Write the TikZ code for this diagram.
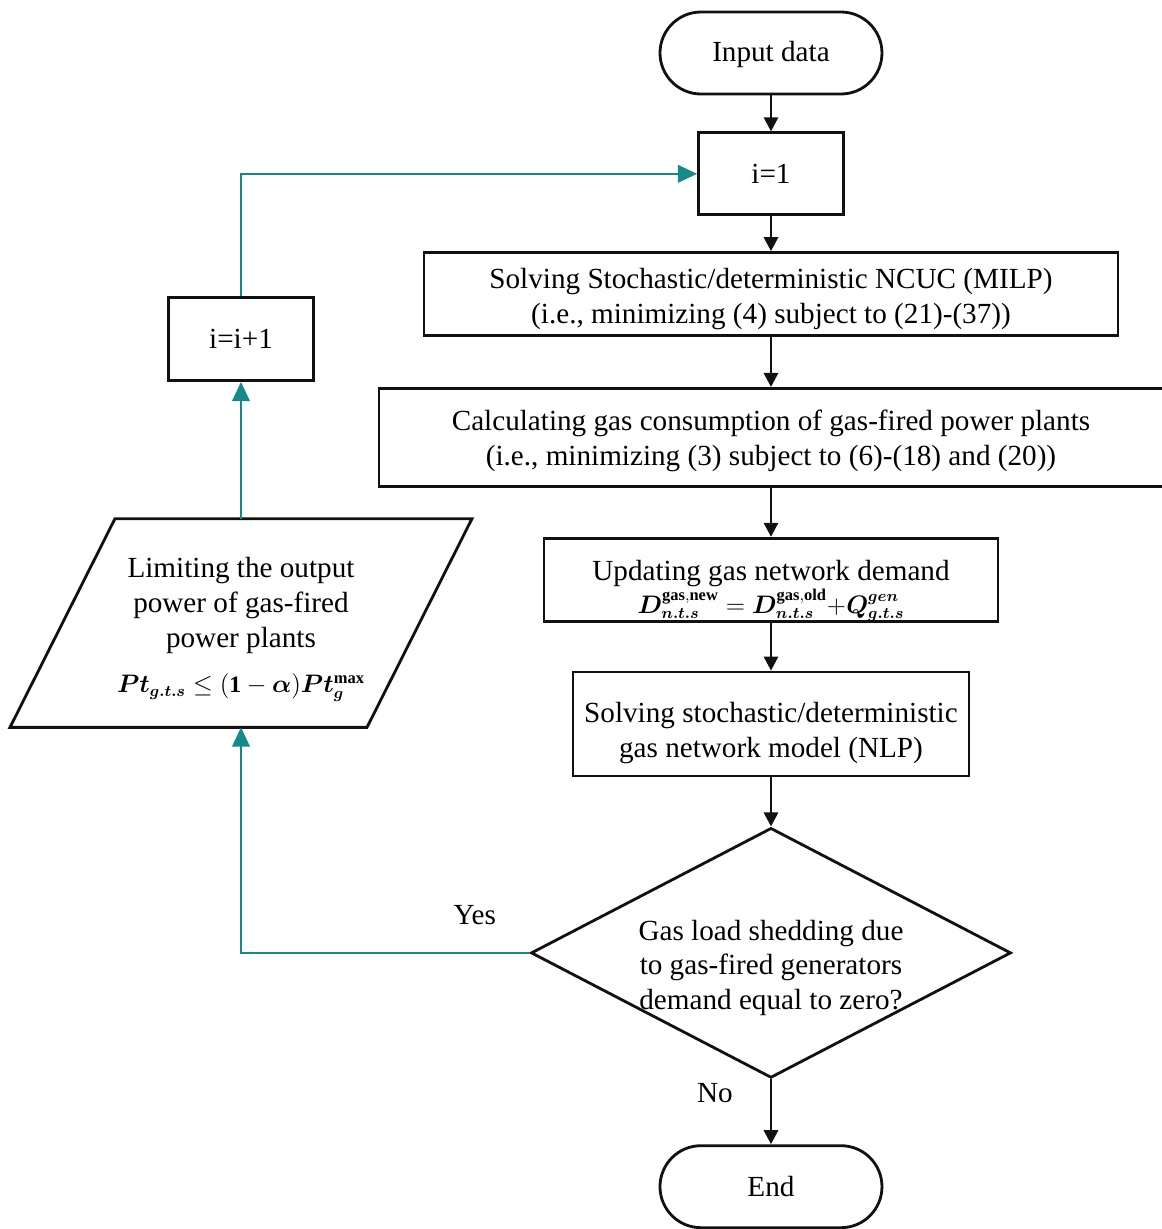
\documentclass[tikz,border=0pt]{standalone}
\usepackage{fontspec}
\setmainfont{Liberation Serif}
\usepackage{amsmath,bm}
\usetikzlibrary{positioning,arrows.meta,shapes.geometric}
\definecolor{ink}{HTML}{111111}
\definecolor{teal}{HTML}{168A88}
\newcommand{\eqsize}{\fontsize{13.4}{16}\selectfont}
% text block pushed down inside its node, node size untouched
\newcommand{\lowered}[2]{\raisebox{-#1}[\height][\depth]{\begin{tabular}{@{}c@{}}#2\end{tabular}}}
\tikzset{
  font=\fontsize{16.6}{19.8}\selectfont,
  %% nodes
  box/.style        = {draw=ink, line width=1.6pt, fill=white, align=center,
                       inner sep=2pt},
  term/.style       = {box, rounded corners=0.82cm, minimum width=4.44cm,
                       minimum height=1.64cm},
  dec/.style        = {diamond, draw=ink, line width=1.6pt, fill=white,
                       align=center, inner sep=0pt, aspect=1.92,
                       minimum width=9.6cm, minimum height=5cm},
  io/.style         = {align=center, inner sep=0pt, minimum height=4.16cm},
  ioedge/.style     = {draw=ink, line width=1.6pt, line join=miter},
  %% arrows
  flow/.style       = {-{Triangle[length=8pt,width=8pt]}, draw=ink, line width=1.6pt},
  back/.style       = {-{Triangle[length=11pt,width=10pt]}, draw=teal, line width=1.4pt},
  lbl/.style        = {font=\fontsize{16.6}{19.8}\selectfont},
}
\begin{document}
\begin{tikzpicture}[node distance=0pt]
\useasboundingbox (-15.42,1.06) rectangle (7.82,-23.52);

%% main column
\node[term] (input) at (0,0) {\lowered{0.04cm}{Input data}};
\node[box, minimum width=2.9cm, minimum height=1.64cm, below=0.72cm of input] (init) {i=1};
\node[box, minimum width=13.88cm, minimum height=1.66cm, below=0.70cm of init] (ncuc)
   {\lowered{0.1cm}{Solving Stochastic/deterministic NCUC (MILP)\\ (i.e., minimizing (4) subject to (21)-(37))}};
\node[box, minimum width=15.68cm, minimum height=1.96cm, below=1.0cm of ncuc] (gascons)
   {\lowered{0.07cm}{Calculating gas consumption of gas-fired power plants\\ (i.e., minimizing (3) subject to (6)-(18) and (20))}};
\node[box, minimum width=9.08cm, minimum height=1.66cm, below=0.98cm of gascons] (update)
   {\lowered{0.2cm}{Updating gas network demand\\[-1pt]
    \eqsize$\bm{D}^{\mathbf{gas,new}}_{\bm{n.t.s}}=\bm{D}^{\mathbf{gas,old}}_{\bm{n.t.s}}{+}\bm{Q}^{\bm{gen}}_{\bm{g.t.s}}$}};
\node[box, minimum width=7.92cm, minimum height=2.08cm, below=0.96cm of update] (nlp)
   {\lowered{0.18cm}{Solving stochastic/deterministic\\ gas network model (NLP)}};
\node[dec, below=0.98cm of nlp] (shed)
   {\lowered{0.3cm}{Gas load shedding due\\ to gas-fired generators\\ demand equal to zero?}};
\node[term, below=1.30cm of shed] (finish) {End};

%% left column
\node[box, minimum width=2.9cm, minimum height=1.66cm] (incr) at (-10.6,-5.72) {i=i+1};
\node[io] (limit) at (-10.6,-11.4)
   {\lowered{0.1cm}{Limiting the output\\ power of gas-fired\\ power plants\\[6pt]
    \eqsize$\bm{Pt}_{\bm{g.t.s}}\le(\mathbf{1}-\bm{\alpha})\bm{Pt}^{\mathbf{max}}_{\bm{g}}$}};
\draw[ioedge] ([xshift=-2.52cm]limit.north) -- ([xshift=4.62cm]limit.north)
   -- ([xshift=2.52cm]limit.south) -- ([xshift=-4.62cm]limit.south) -- cycle;

%% edges
\draw[flow] (input) -- (init);
\draw[flow] (init) -- (ncuc);
\draw[flow] (ncuc) -- (gascons);
\draw[flow] (gascons) -- (update);
\draw[flow] (update) -- (nlp);
\draw[flow] (nlp) -- (shed);
\draw[flow] (shed) -- node[lbl, pos=0.22, left=0.62cm] {No} (finish);

%% loop back
\draw[back] (shed.west) -| node[lbl, pos=0.095, above=0.43cm] {Yes} (limit.south);
\draw[back] (limit.north) -- (incr.south);
\draw[back] (incr.north) |- (init.west);

\end{tikzpicture}
\end{document}
